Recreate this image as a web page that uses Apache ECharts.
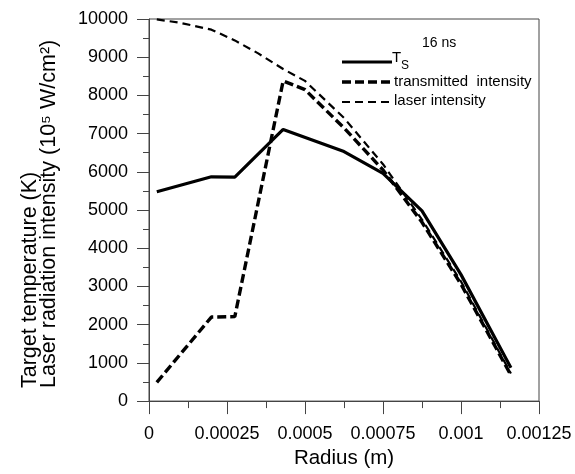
<!DOCTYPE html>
<html>
<head>
<meta charset="utf-8">
<script src="https://cdn.jsdelivr.net/npm/echarts@6/dist/echarts.min.js"></script>
<style>
  html, body { margin: 0; padding: 0; background: #fff; }
  #chart { width: 575px; height: 474px; }
</style>
</head>
<body>
<div id="chart"></div>
<script>
// radius values (m) and readings from the picture
const tsRadius = [0.000025, 0.0002, 0.000275, 0.00043, 0.000625, 0.00075, 0.000875, 0.001, 0.00116];
const tsValues = [5480, 5870, 5860, 7110, 6530, 5960, 4980, 3310, 870];

const transRadius = [0.000025, 0.0002, 0.000275, 0.00043, 0.0005, 0.000625, 0.00075, 0.000875, 0.001, 0.00116];
const transValues = [490, 2200, 2210, 8380, 8150, 7150, 6050, 4680, 3060, 680];

const laserRadius = [0.000025, 0.0001, 0.0002, 0.000275, 0.00035, 0.00043, 0.0005, 0.000625, 0.00075, 0.000875, 0.001, 0.00116];
const laserValues = [9990, 9900, 9720, 9440, 9100, 8690, 8380, 7410, 6200, 4750, 3130, 720];

const xTicks = [0, 0.00025, 0.0005, 0.00075, 0.001, 0.00125];

const FONT = "'Liberation Sans', Arial, sans-serif";

function pairs(xs, ys) {
  return xs.map((x, i) => [x, ys[i]]);
}

const chart = echarts.init(document.getElementById("chart"));

const option = {
  animation: false,
  grid: {
    left: 149,
    right: 36,
    top: 19,
    bottom: 64,
    show: true,
    borderColor: "#444",
    borderWidth: 1,
  },
  xAxis: {
    type: "value",
    min: xTicks[0],
    max: xTicks[xTicks.length - 1],
    interval: 0.00025,
    name: "Radius (m)",
    nameLocation: "middle",
    nameGap: 42,
    nameTextStyle: { fontFamily: FONT, fontSize: 20.5, color: "#000" },
    axisLine: { lineStyle: { color: "#444", width: 1 } },
    axisTick: { length: 13, lineStyle: { color: "#444" } },
    minorTick: { show: true, splitNumber: 2, length: 7, lineStyle: { color: "#444" } },
    splitLine: { show: false },
    axisLabel: {
      margin: 24,
      fontFamily: FONT,
      fontSize: 18,
      color: "#000",
      formatter: (v) => String(+v.toFixed(5)),
    },
  },
  yAxis: {
    type: "value",
    min: 0,
    max: 10000,
    interval: 1000,
    axisLine: { show: true, lineStyle: { color: "#444", width: 1 } },
    axisTick: { show: true, length: 12, lineStyle: { color: "#444" } },
    minorTick: { show: true, splitNumber: 2, length: 6, lineStyle: { color: "#444" } },
    splitLine: { show: false },
    axisLabel: {
      margin: 21,
      fontFamily: FONT,
      fontSize: 18,
      color: "#000",
      formatter: (v) => String(v),
    },
  },
  series: [
    {
      name: "laser intensity",
      type: "line",
      data: pairs(laserRadius, laserValues),
      symbol: "none",
      lineStyle: { color: "#000", width: 2.2, type: [8, 5] },
    },
    {
      name: "transmitted intensity",
      type: "line",
      data: pairs(transRadius, transValues),
      symbol: "none",
      lineStyle: { color: "#000", width: 3.4, type: [9, 4] },
    },
    {
      name: "Ts",
      type: "line",
      data: pairs(tsRadius, tsValues),
      symbol: "none",
      lineStyle: { color: "#000", width: 3.2 },
    },
  ],
  graphic: [
    // y axis title, two lines reading upward
    {
      type: "text",
      x: 30,
      y: 388,
      rotation: Math.PI / 2,
      style: {
        text: "Target temperature (K)",
        font: "21.5px " + FONT,
        fill: "#000",
        textAlign: "left",
        textVerticalAlign: "middle",
      },
    },
    {
      type: "text",
      x: 49,
      y: 388,
      rotation: Math.PI / 2,
      style: {
        text: "Laser radiation intensity (10\u2075 W/cm\u00b2)",
        font: "21.5px " + FONT,
        fill: "#000",
        textAlign: "left",
        textVerticalAlign: "middle",
      },
    },
    // legend block
    {
      type: "text",
      x: 422,
      y: 43,
      style: { text: "16 ns", font: "14px " + FONT, fill: "#000", textVerticalAlign: "middle" },
    },
    {
      type: "line",
      shape: { x1: 342, y1: 62, x2: 392, y2: 62 },
      style: { stroke: "#000", lineWidth: 3.2 },
    },
    {
      type: "text",
      x: 392,
      y: 58,
      style: { text: "T", font: "15px " + FONT, fill: "#000", textVerticalAlign: "middle" },
    },
    {
      type: "text",
      x: 401,
      y: 66,
      style: { text: "S", font: "12px " + FONT, fill: "#000", textVerticalAlign: "middle" },
    },
    {
      type: "line",
      shape: { x1: 342, y1: 82, x2: 392, y2: 82 },
      style: { stroke: "#000", lineWidth: 3.4, lineDash: [9, 4] },
    },
    {
      type: "text",
      x: 394,
      y: 82,
      style: { text: "transmitted  intensity", font: "15px " + FONT, fill: "#000", textVerticalAlign: "middle" },
    },
    {
      type: "line",
      shape: { x1: 342, y1: 102, x2: 392, y2: 102 },
      style: { stroke: "#000", lineWidth: 2.2, lineDash: [8, 5] },
    },
    {
      type: "text",
      x: 394,
      y: 101,
      style: { text: "laser intensity", font: "15px " + FONT, fill: "#000", textVerticalAlign: "middle" },
    },
  ],
};

chart.setOption(option);
</script>
</body>
</html>
